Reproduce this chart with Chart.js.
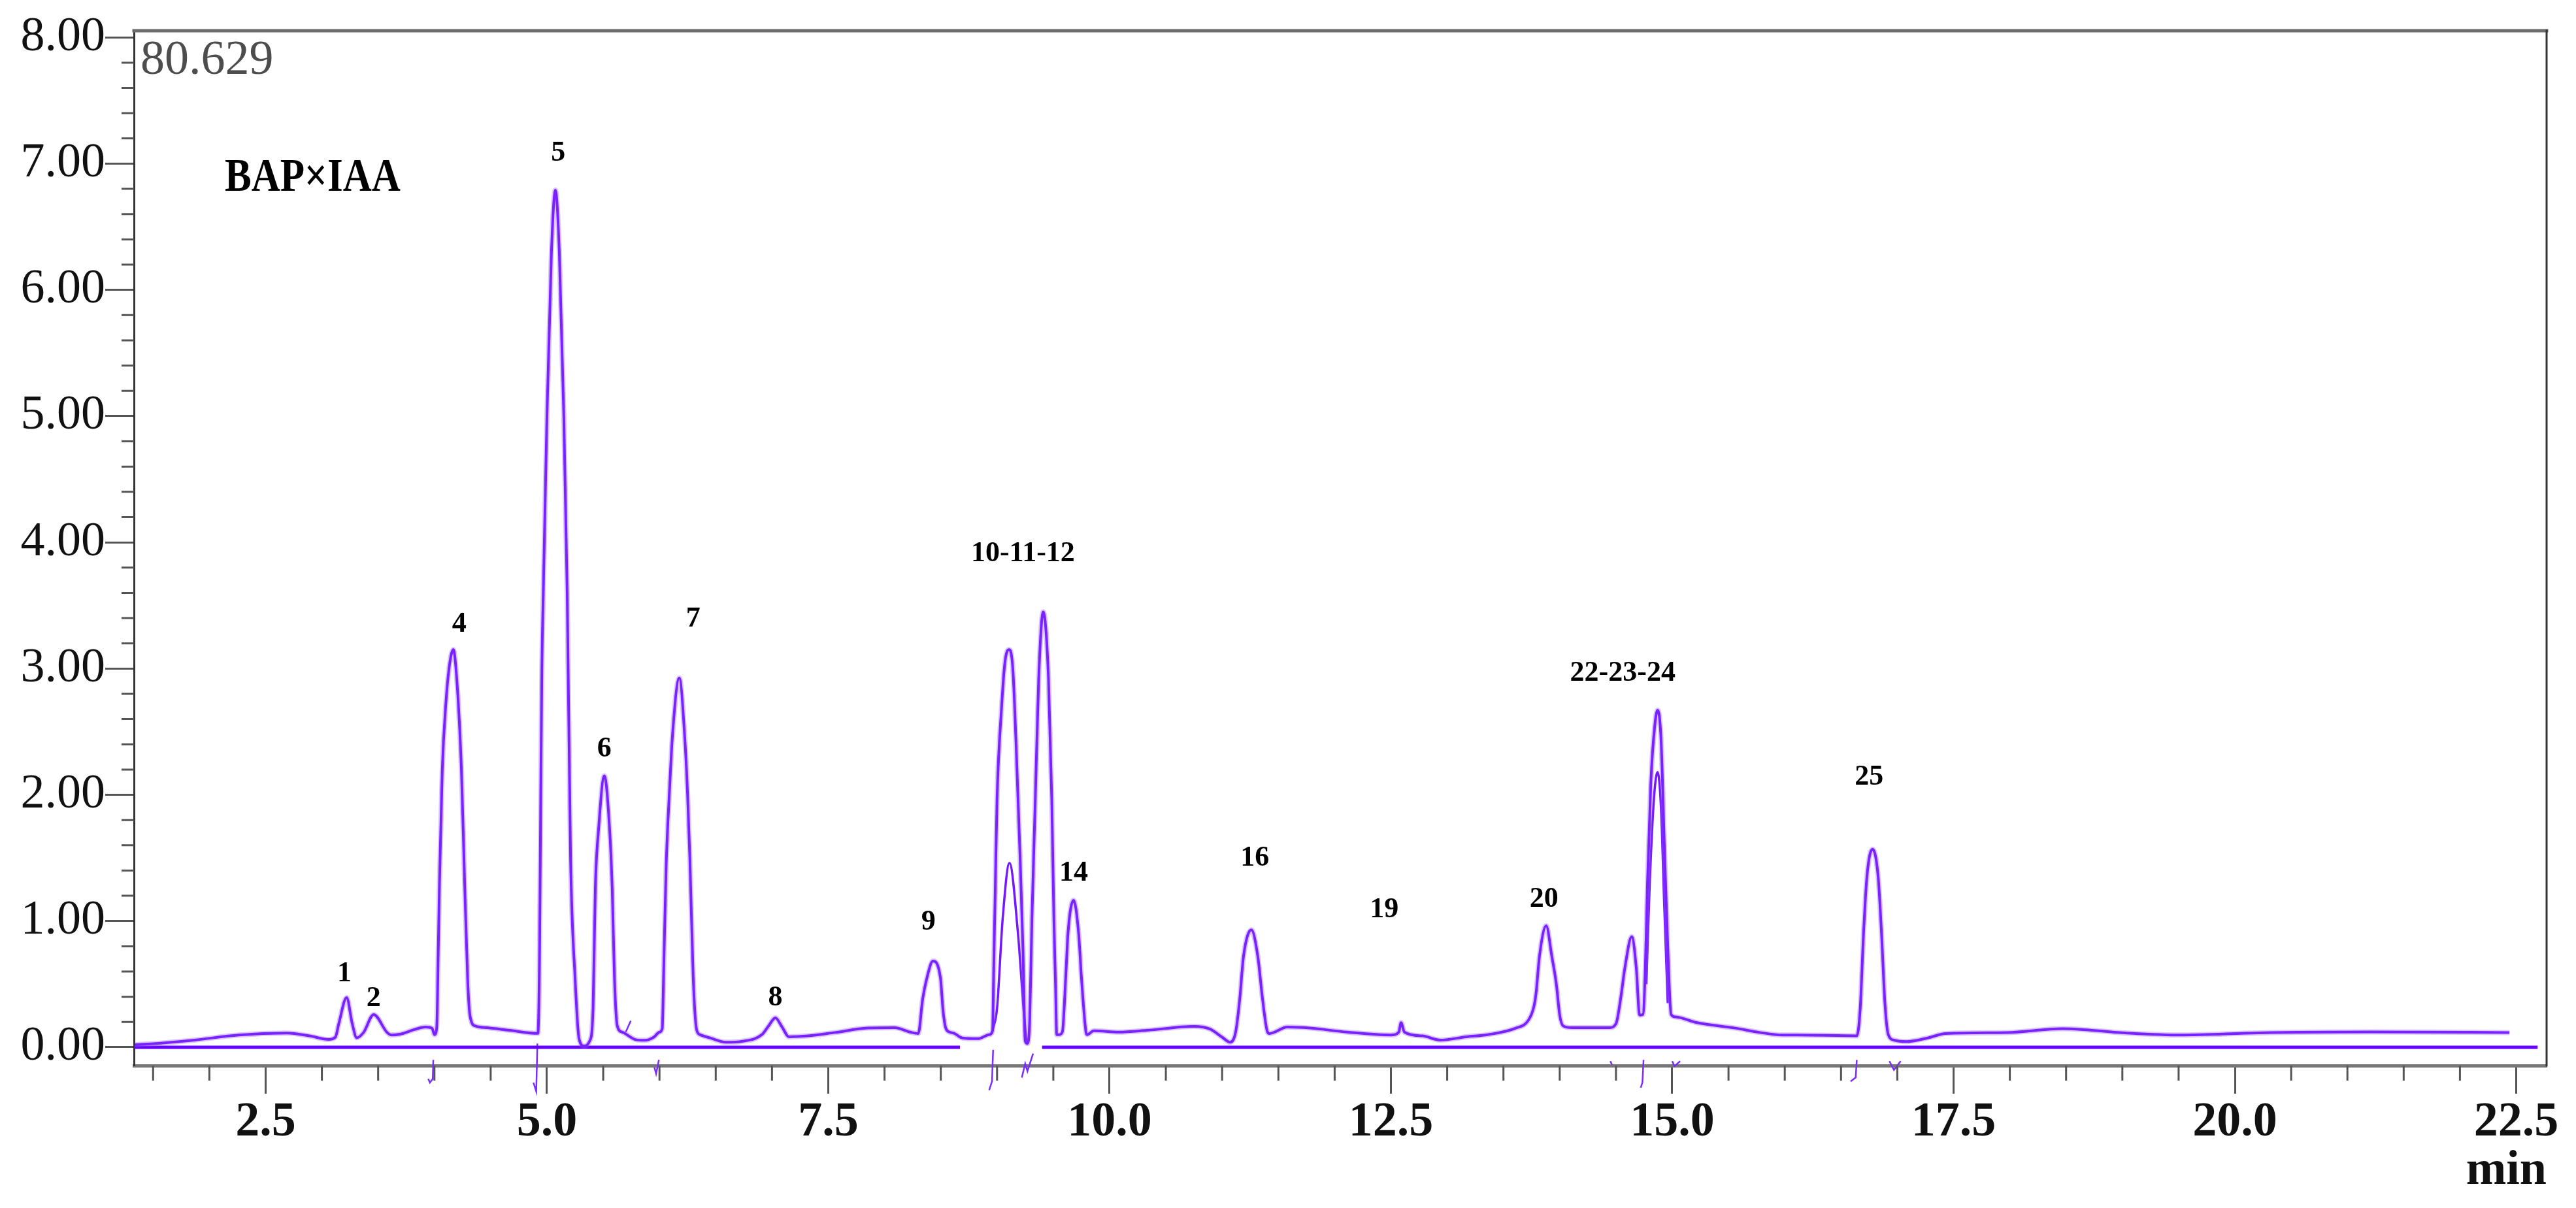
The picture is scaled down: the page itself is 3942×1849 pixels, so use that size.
<!DOCTYPE html>
<html>
<head>
<meta charset="utf-8">
<title>BAP×IAA chromatogram</title>
<script src="https://cdn.jsdelivr.net/npm/chart.js@4.4.1/dist/chart.umd.min.js"></script>
<style>
  html, body { margin: 0; padding: 0; background: #fff; }
  canvas { display: block; }
</style>
</head>
<body>
<canvas id="chromChart" width="3942" height="1849" style="width:3942px;height:1849px"></canvas>
<script>
// retention time (min) and signal
const traceTime = [
  1.34, 1.6, 1.87, 2.26, 2.69, 2.89, 3.06, 3.12, 3.15, 3.22, 3.27, 3.31, 3.37, 3.46, 3.58, 3.62, 3.7, 3.82, 3.92, 3.98, 4.0, 4.02,
  4.035, 4.045, 4.07, 4.1, 4.13, 4.168, 4.2, 4.24, 4.27, 4.295, 4.31, 4.33, 4.36, 4.47, 4.67, 4.92,
  4.935, 4.945, 4.955, 4.97, 5.0, 5.04, 5.075, 5.11, 5.15, 5.18, 5.21, 5.25, 5.285, 5.33,
  5.38, 5.41, 5.43, 5.46, 5.51, 5.556, 5.58, 5.6, 5.625, 5.67, 5.79, 5.87, 5.95, 6.0,
  6.025, 6.035, 6.045, 6.06, 6.09, 6.118, 6.176, 6.225, 6.25, 6.27, 6.3, 6.33, 6.36, 6.45, 6.59, 6.74, 6.91, 6.97, 7.03, 7.09, 7.15, 7.32, 7.56, 7.85, 8.09, 8.23, 8.3,
  8.338, 8.377, 8.43, 8.497, 8.52, 8.545, 8.58, 8.62, 8.69, 8.83, 8.93, 8.96,
  8.97, 8.985, 9.0, 9.04, 9.07, 9.108, 9.14, 9.167, 9.205, 9.23, 9.25, 9.27,
  9.29, 9.31, 9.34, 9.37, 9.41, 9.457, 9.486, 9.505, 9.52, 9.53, 9.55,
  9.58, 9.61, 9.63, 9.68, 9.725, 9.75, 9.79, 9.8, 9.86, 10.08, 10.33, 10.75, 10.89, 11.0, 11.07,
  11.12, 11.156, 11.19, 11.26, 11.317, 11.36, 11.4, 11.42, 11.58, 11.78, 12.11, 12.5, 12.57, 12.59, 12.62, 12.78, 12.94, 13.17, 13.36, 13.61, 13.72,
  13.77, 13.79, 13.82, 13.88, 13.93, 13.97, 14.0, 14.03, 14.11, 14.44,
  14.5, 14.54, 14.58, 14.64, 14.68, 14.71, 14.74,
  14.76, 14.78, 14.81, 14.845, 14.87, 14.9, 14.93, 14.96, 14.99, 15.03, 15.22, 15.56, 15.78, 15.98, 16.11, 16.64,
  16.67, 16.7, 16.73, 16.78, 16.83, 16.86, 16.89, 16.92, 16.97, 17.08, 17.27, 17.43, 17.97, 18.47, 19.02, 19.52, 20.21, 21.21, 22.44
];
const traceValue = [
  0.02, 0.035, 0.057, 0.097, 0.112, 0.09, 0.062, 0.08, 0.186, 0.393, 0.186, 0.075, 0.117, 0.259, 0.117, 0.097, 0.105, 0.14, 0.16, 0.15, 0.1, 0.15,
  0.8, 1.3, 2.2, 2.7, 3.0, 3.15, 2.9, 2.2, 1.26, 0.55, 0.3, 0.2, 0.17, 0.155, 0.134, 0.11,
  0.8, 2.0, 3.0, 3.7, 5.0, 6.3, 6.79, 6.3, 5.0, 3.6, 1.5, 0.55, 0.07, 0.01,
  0.05, 0.31, 1.26, 1.74, 2.15, 1.74, 1.26, 0.55, 0.17, 0.12, 0.06, 0.055, 0.08, 0.12,
  0.15, 0.5, 0.9, 1.45, 2.05, 2.5, 2.925, 2.45, 2.0, 1.5, 0.55, 0.14, 0.1, 0.074, 0.04, 0.048, 0.1, 0.17, 0.233, 0.16, 0.083, 0.09, 0.117, 0.152, 0.155, 0.12, 0.109,
  0.376, 0.55, 0.683, 0.55, 0.29, 0.15, 0.12, 0.11, 0.074, 0.068, 0.1, 0.13,
  0.6, 1.3, 1.97, 2.69, 3.05, 3.15, 3.0, 2.45, 1.5, 0.78, 0.05, 0.03,
  0.21, 1.02, 1.97, 2.92, 3.45, 2.92, 1.97, 1.02, 0.48, 0.1, 0.1,
  0.12, 0.55, 0.9, 1.165, 0.9, 0.55, 0.12, 0.1, 0.13, 0.12, 0.134, 0.166, 0.145, 0.08, 0.04,
  0.12, 0.376, 0.72, 0.93, 0.72, 0.376, 0.13, 0.109, 0.16, 0.152, 0.12, 0.097, 0.12, 0.195, 0.12, 0.09, 0.057, 0.083, 0.1, 0.152, 0.212,
  0.32, 0.43, 0.72, 0.962, 0.72, 0.5, 0.255, 0.17, 0.155, 0.155,
  0.186, 0.376, 0.634, 0.876, 0.634, 0.255, 0.26,
  0.6, 1.3, 2.1, 2.55, 2.67, 2.45, 1.6, 0.8, 0.26, 0.24, 0.195, 0.152, 0.117, 0.097, 0.097, 0.091,
  0.3, 0.9, 1.35, 1.57, 1.35, 0.9, 0.35, 0.1, 0.057, 0.045, 0.074, 0.109, 0.117, 0.148, 0.114, 0.097, 0.114, 0.121, 0.117
];

// overlaid lower trace inside peaks 10-11 and 23-24
const innerTime = [8.96, 9.0, 9.05, 9.11, 9.186, 9.235, 9.26, 12.0, 14.77, 14.8, 14.84, 14.87, 14.9, 14.93, 14.96];
const innerValue = [0.13, 0.31, 1.02, 1.46, 0.9, 0.31, 0.05, null, 0.5, 1.3, 2.0, 2.18, 1.9, 1.1, 0.35];

// zero baseline (gap under the 10-11 cluster)
const baseTime = [1.33, 8.67, 9.0, 9.4, 22.69];
const baseValue = [0, 0, null, 0, 0];

// integration event marks
const markTime = [
  3.99, 3.985, 3.96, 3.945, 4.4,
  4.915, 4.905, 4.88, 5.3,
  5.70, 5.745, 5.8,
  5.955, 5.97, 5.995, 7.0,
  8.965, 8.955, 8.93, 9.1,
  9.22, 9.25, 9.27, 9.32, 12.0,
  14.45, 14.465, 14.6,
  14.745, 14.735, 14.72, 14.9,
  15.0, 15.02, 15.07, 16.0,
  16.64, 16.63, 16.585, 16.8,
  16.93, 16.97, 17.03
];
const markValue = [
  -0.10, -0.25, -0.28, -0.25, null,
  0.03, -0.35, -0.28, null,
  0.12, 0.21, null,
  -0.16, -0.21, -0.10, null,
  -0.02, -0.27, -0.34, null,
  -0.24, -0.13, -0.19, -0.05, null,
  -0.11, -0.14, null,
  -0.10, -0.28, -0.32, null,
  -0.11, -0.15, -0.11, null,
  -0.10, -0.24, -0.27, null,
  -0.11, -0.18, -0.11
];

// peak numbers
const peakNames = ['1', '2', '4', '5', '6', '7', '8', '9', '10-11-12', '14', '16', '19', '20', '22-23-24', '25'];
const peakLabelTime = [3.2, 3.46, 4.22, 5.1, 5.51, 6.3, 7.03, 8.39, 9.23, 9.68, 11.29, 12.44, 13.86, 14.56, 16.75];
const peakLabelValue = [0.58, 0.385, 3.35, 7.08, 2.36, 3.39, 0.39, 0.99, 3.91, 1.38, 1.5, 1.09, 1.17, 2.96, 2.14];

const xTickValues = [2.5, 5.0, 7.5, 10.0, 12.5, 15.0, 17.5, 20.0, 22.5];
const xTickLabels = ['2.5', '5.0', '7.5', '10.0', '12.5', '15.0', '17.5', '20.0', '22.5'];
const yTickValues = [0, 1, 2, 3, 4, 5, 6, 7, 8];
const yTickLabels = ['0.00', '1.00', '2.00', '3.00', '4.00', '5.00', '6.00', '7.00', '8.00'];
const xMinorStep = 0.5;
const yMinorStep = 0.2;

const runTag = '80.629';
const sampleName = 'BAP×IAA';

function toPoints(times, values) {
  return times.map((t, i) => ({ x: t, y: values[i] }));
}

const tracePoints = toPoints(traceTime, traceValue);

const decor = {
  id: 'decor',
  afterDraw(chart) {
    const { ctx, chartArea: a, scales: { x, y } } = chart;
    ctx.save();

    // frame: top and right edges
    ctx.lineCap = 'square';
    ctx.strokeStyle = '#6b6b6b';
    ctx.lineWidth = 5;
    ctx.beginPath();
    ctx.moveTo(a.left, a.top);
    ctx.lineTo(a.right, a.top);
    ctx.stroke();
    ctx.strokeStyle = '#333';
    ctx.lineWidth = 3;
    ctx.beginPath();
    ctx.moveTo(a.right, a.top);
    ctx.lineTo(a.right, a.bottom);
    ctx.stroke();

    // minor ticks
    ctx.lineCap = 'butt';
    ctx.strokeStyle = '#555';
    ctx.lineWidth = 3;
    ctx.beginPath();
    for (let k = Math.ceil(x.min / xMinorStep); k * xMinorStep <= x.max; k++) {
      if (k % 5 === 0) continue;
      const px = x.getPixelForValue(k * xMinorStep);
      ctx.moveTo(px, a.bottom);
      ctx.lineTo(px, a.bottom + 23);
    }
    for (let k = Math.ceil(y.min / yMinorStep); k * yMinorStep <= y.max; k++) {
      if (k % 5 === 0) continue;
      const py = y.getPixelForValue(k * yMinorStep);
      ctx.moveTo(a.left, py);
      ctx.lineTo(a.left - 19, py);
    }
    ctx.stroke();

    // run tag and sample name
    ctx.textAlign = 'left';
    ctx.textBaseline = 'alphabetic';
    ctx.fillStyle = '#4d4d4d';
    ctx.font = '74px "Liberation Serif"';
    ctx.fillText(runTag, a.left + 10, a.top + 66);

    ctx.save();
    ctx.translate(a.left + 139, a.top + 245);
    ctx.scale(0.86, 1);
    ctx.fillStyle = '#000';
    ctx.font = 'bold 71px "Liberation Serif"';
    ctx.fillText(sampleName, 0, 0);
    ctx.restore();

    // peak numbers
    ctx.textAlign = 'center';
    ctx.textBaseline = 'middle';
    ctx.fillStyle = '#000';
    ctx.font = 'bold 44px "Liberation Serif"';
    peakNames.forEach((name, i) => {
      ctx.fillText(name, x.getPixelForValue(peakLabelTime[i]), y.getPixelForValue(peakLabelValue[i]));
    });

    ctx.restore();
  }
};

const ctx = document.getElementById('chromChart').getContext('2d');
new Chart(ctx, {
  type: 'line',
  data: {
    datasets: [
      {
        label: 'halo',
        data: tracePoints,
        borderColor: 'rgba(150, 95, 255, 0.35)',
        borderWidth: 8,
        pointRadius: 0,
        cubicInterpolationMode: 'monotone'
      },
      {
        label: 'trace',
        data: tracePoints,
        borderColor: '#6a00ff',
        borderWidth: 4,
        pointRadius: 0,
        cubicInterpolationMode: 'monotone'
      },
      {
        label: 'inner',
        data: toPoints(innerTime, innerValue),
        borderColor: '#7418ff',
        borderWidth: 3.5,
        pointRadius: 0,
        cubicInterpolationMode: 'monotone'
      },
      {
        label: 'baseline',
        data: toPoints(baseTime, baseValue),
        borderColor: '#6400ff',
        borderWidth: 5,
        pointRadius: 0
      },
      {
        label: 'marks',
        data: toPoints(markTime, markValue),
        borderColor: '#7a2cff',
        borderWidth: 2.5,
        pointRadius: 0,
        clip: false
      }
    ]
  },
  options: {
    responsive: false,
    animation: false,
    devicePixelRatio: 1,
    layout: {
      padding: { left: 0, right: 45, top: 47, bottom: 0 }
    },
    plugins: {
      legend: { display: false },
      tooltip: { enabled: false }
    },
    scales: {
      x: {
        type: 'linear',
        min: 1.33,
        max: 22.77,
        afterBuildTicks: (scale) => {
          scale.ticks = xTickValues.map(v => ({ value: v }));
        },
        afterFit: (scale) => {
          scale.height = 218;
        },
        ticks: {
          autoSkip: false,
          maxRotation: 0,
          padding: 0,
          color: '#111',
          font: { family: '"Liberation Serif"', size: 74, weight: 'bold' },
          callback: (value, index) => xTickLabels[index]
        },
        grid: {
          drawOnChartArea: false,
          drawTicks: true,
          tickLength: 43,
          tickWidth: 3,
          tickColor: '#555'
        },
        border: { display: true, color: '#777', width: 5 },
        title: {
          display: true,
          text: 'min',
          align: 'end',
          color: '#111',
          font: { family: '"Liberation Serif"', size: 74, weight: 'bold' },
          padding: { top: 0, bottom: 12 }
        }
      },
      y: {
        type: 'linear',
        min: -0.145,
        max: 8.053,
        afterBuildTicks: (scale) => {
          scale.ticks = yTickValues.map(v => ({ value: v }));
        },
        afterFit: (scale) => {
          scale.width = 205;
        },
        ticks: {
          padding: 0,
          color: '#111',
          font: { family: '"Liberation Serif"', size: 74 },
          callback: (value, index) => yTickLabels[index]
        },
        grid: {
          drawOnChartArea: false,
          drawTicks: true,
          tickLength: 44,
          tickWidth: 3,
          tickColor: '#555'
        },
        border: { display: true, color: '#333', width: 3 }
      }
    }
  },
  plugins: [decor]
});
</script>
</body>
</html>
